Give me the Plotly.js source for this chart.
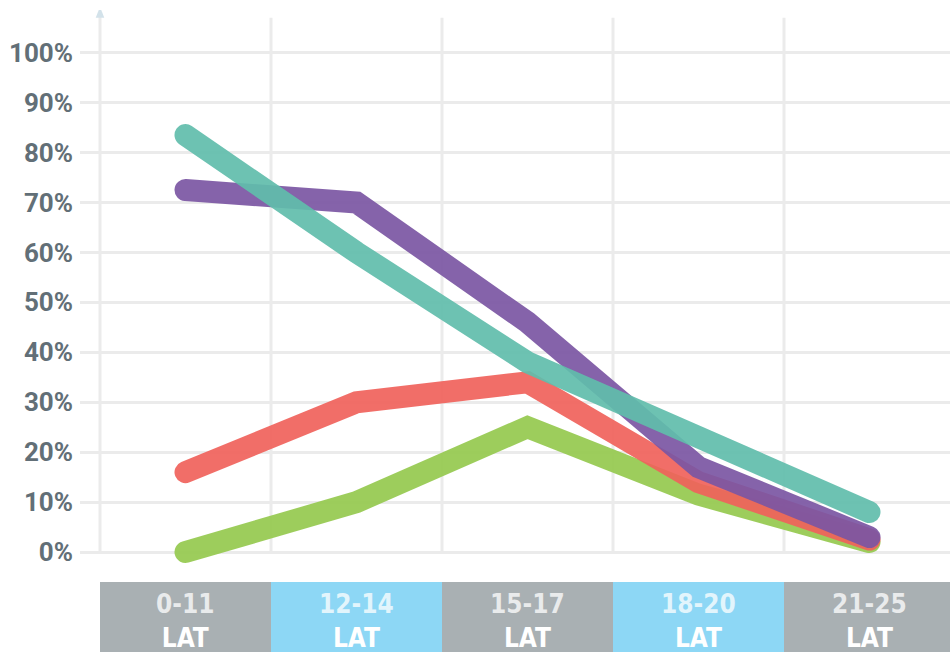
<!DOCTYPE html>
<html>
<head>
<meta charset="utf-8">
<script src="https://cdn.plot.ly/plotly-3.0.1.min.js"></script>
<style>
  html, body { margin: 0; padding: 0; background: #fff; }
  #chart { width: 950px; height: 652px; }
  .scatterlayer path.js-line { stroke-linecap: round; }
</style>
</head>
<body>
<div id="chart"></div>
<script>
// ---- data ----
const categories = ["0-11", "12-14", "15-17", "18-20", "21-25"];
const categorySuffix = "LAT";
const tealValues   = [83.5, 60, 38, 23, 8];
const purpleValues = [72.5, 70, 46, 17, 3];
const redValues    = [16, 30, 34, 14, 2.5];
const greenValues  = [0, 10, 25, 11.5, 2];
const yTickValues  = [0, 10, 20, 30, 40, 50, 60, 70, 80, 90, 100];

// ---- styling ----
const colors = { teal: "#61bdab", purple: "#7b56a3", red: "#f0625b", green: "#95c94e" };
const boxColors = ["#a9b0b3", "#8dd7f5"];
const gridColor = "#ebebeb";
const xRange = [-20 / 171, 850 / 171];
const yRange = [-5.6, 108.55];

const xs = categories.map((c, i) => i + 0.5);

function lineTrace(vals, color) {
  return {
    x: xs, y: vals, type: "scatter", mode: "lines",
    line: { color: color, width: 22 },
    opacity: 0.92, hoverinfo: "skip", showlegend: false
  };
}

const data = [
  lineTrace(greenValues, colors.green),
  lineTrace(redValues, colors.red),
  lineTrace(purpleValues, colors.purple),
  lineTrace(tealValues, colors.teal)
];

const shapes = [];
const annotations = [];
categories.forEach((c, i) => {
  // vertical grid lines
  shapes.push({
    type: "line", layer: "below", xref: "x", yref: "y",
    x0: i, x1: i, y0: 0, y1: i === 0 ? 107.5 : 107,
    line: { color: gridColor, width: 3 }
  });
  // category boxes
  shapes.push({
    type: "rect", layer: "above", xref: "x", yref: "paper",
    x0: i, x1: Math.min(i + 1, xRange[1]), y0: -0.0035, y1: -0.2,
    fillcolor: boxColors[i % 2], line: { width: 0 }
  });
  annotations.push({
    xref: "x", yref: "paper", x: i + 0.5, y: -0.0715,
    xanchor: "center", yanchor: "middle", showarrow: false,
    text: '<span style="color:rgba(255,255,255,0.75)">' + c + '</span><br>' + categorySuffix,
    font: { family: "Liberation Sans Narrow, DejaVu Sans Condensed, sans-serif", size: 26, color: "#ffffff", weight: 700 }
  });
});
// small arrow head on the y axis
shapes.push({
  type: "path", layer: "below", xref: "x", yref: "y",
  path: "M -0.025 107.0 L 0.025 107.0 L 0 109.2 Z",
  fillcolor: "#d3e2ea", line: { width: 0 }
});

const layout = {
  width: 950, height: 652,
  margin: { l: 80, r: 0, t: 10, b: 72, pad: 0 },
  paper_bgcolor: "#ffffff", plot_bgcolor: "#ffffff",
  xaxis: {
    range: xRange, showgrid: false, zeroline: false, showticklabels: false,
    showline: false, ticks: "", fixedrange: true
  },
  yaxis: {
    range: yRange, tickvals: yTickValues, ticktext: yTickValues.map(v => v + "%"),
    showgrid: true, gridcolor: gridColor, gridwidth: 3, zeroline: false,
    showline: false, ticks: "", ticklabelstandoff: 6,
    tickfont: { family: "Roboto, sans-serif", size: 26, color: "#626f77", weight: 700 },
    fixedrange: true
  },
  shapes: shapes,
  annotations: annotations,
  showlegend: false
};

Plotly.newPlot("chart", data, layout, { displayModeBar: false, staticPlot: true });
</script>
</body>
</html>
